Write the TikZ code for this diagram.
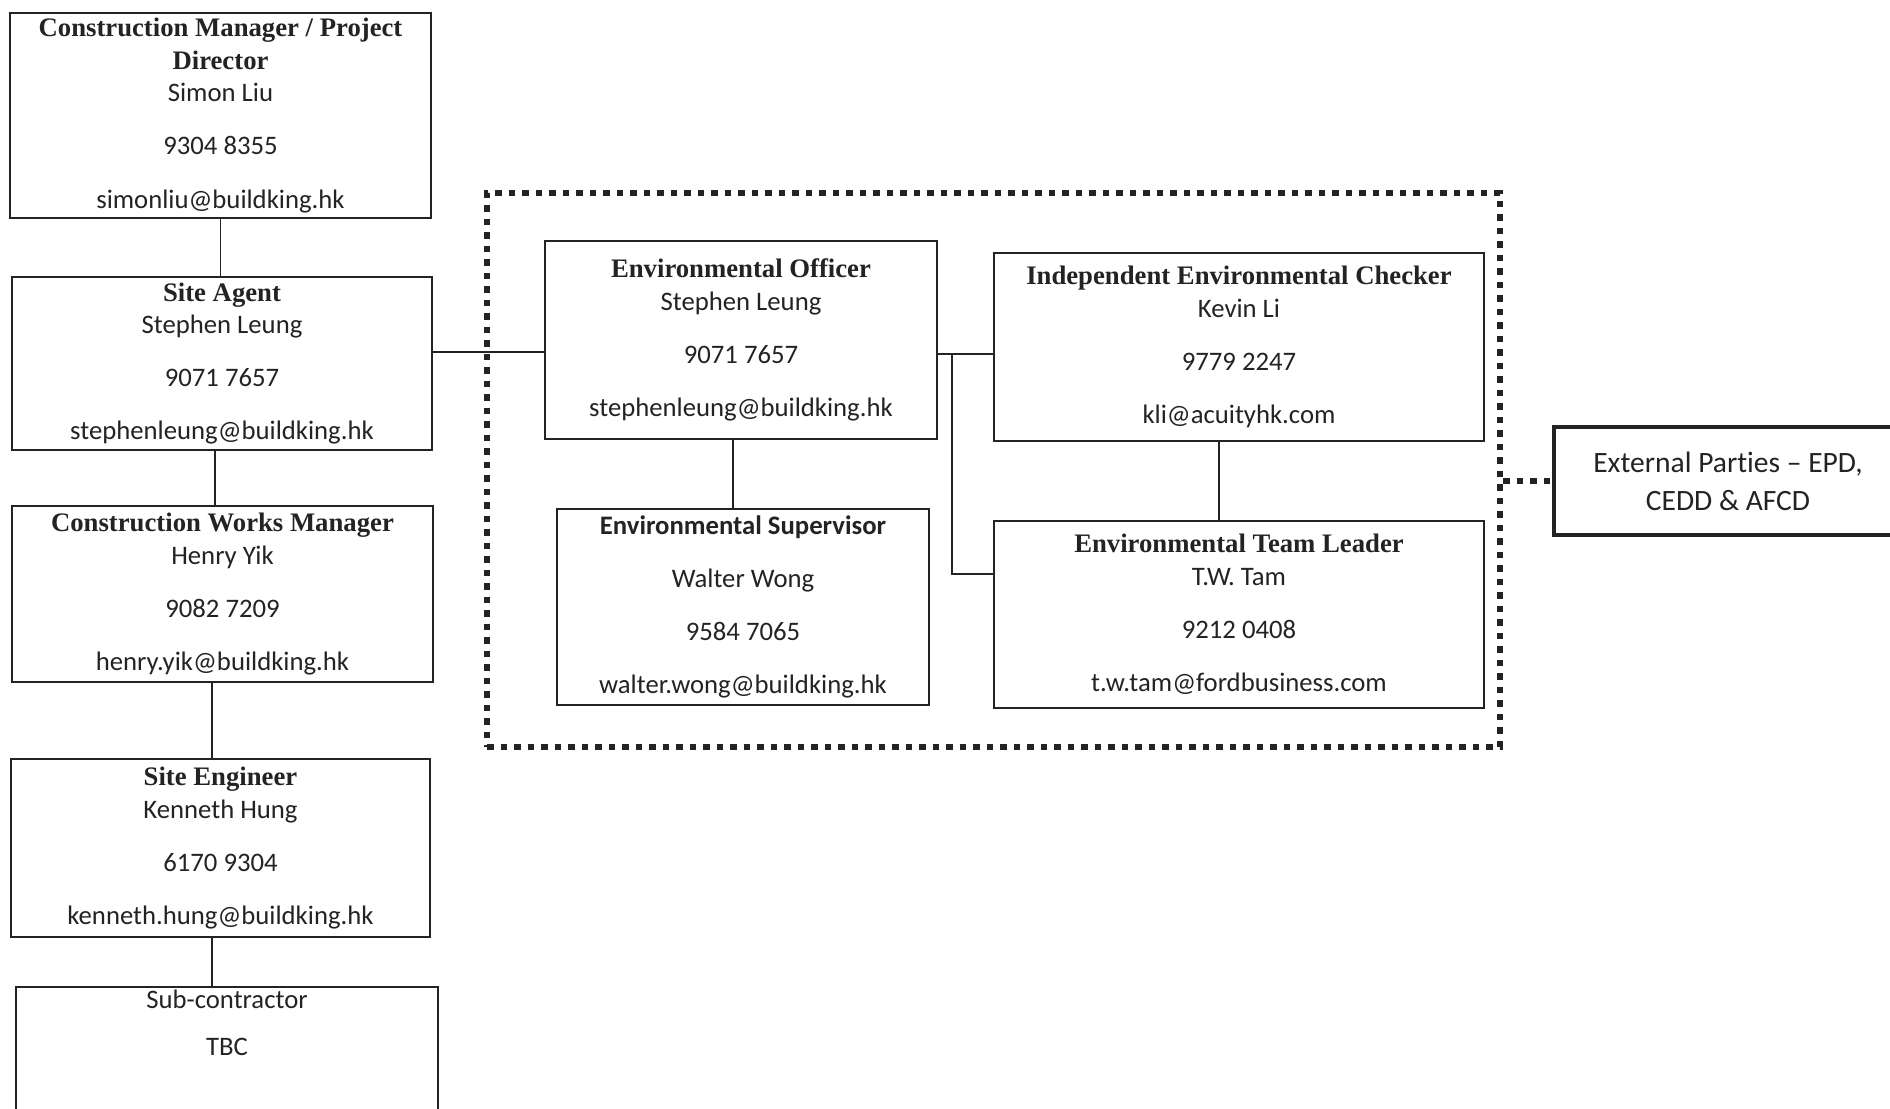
\documentclass[tikz,border=0pt]{standalone}
\usepackage{fontspec}
\setmainfont{Carlito}[Ligatures={TeX,NoCommon}]
\newfontfamily\titlefont{Liberation Serif}
\usetikzlibrary{positioning}
\definecolor{ink}{RGB}{35,35,35}
\newcommand\hd[1]{{\titlefont\bfseries\fontsize{15.2}{18.5}\selectfont #1}}
\newcommand\gap{\\[11.7pt]}
\tikzset{
  box/.style 2 args={draw=ink,line width=1.1pt,minimum width=#1,minimum height=#2,
    align=center,text=ink,inner sep=2pt,font=\fontsize{15.2}{18.5}\selectfont},
  extbox/.style={draw=ink,line width=2.2pt,minimum width=6.96cm,minimum height=2.16cm,
    align=center,text=ink,font=\fontsize{16.8}{21.5}\selectfont},
  teamframe/.style={draw=ink,line width=0.13cm,dash pattern=on 0.13cm off 0.14cm,
    minimum width=20.26cm,minimum height=11.08cm},
  link/.style={draw=ink,line width=1.1pt},
  dotlink/.style={draw=ink,line width=0.13cm,dash pattern=on 0.13cm off 0.14cm},
}
\begin{document}
\begin{tikzpicture}
  \useasboundingbox (0,0) rectangle (37.8,22.16);
  % contractor line
  \node[box={8.42cm}{4.10cm}] (cm) at (4.41,19.85)
    {\hd{Construction Manager / Project}\\ \hd{Director}\\ Simon Liu\gap 9304 8355\gap simonliu@buildking.hk};
  \node[box={8.40cm}{3.46cm}] (sa) at (4.44,14.89)
    {\hd{Site Agent}\\ Stephen Leung\gap 9071 7657\gap stephenleung@buildking.hk};
  \node[box={8.42cm}{3.52cm}] (cwm) at (4.45,10.28)
    {\hd{Construction Works Manager}\\ Henry Yik\gap 9082 7209\gap henry.yik@buildking.hk};
  \node[box={8.38cm}{3.56cm}] (se) at (4.41,5.20)
    {\hd{Site Engineer}\\ Kenneth Hung\gap 6170 9304\gap kenneth.hung@buildking.hk};
  \node[box={8.44cm}{3.56cm}] (sub) at (4.54,0.64)
    {Sub-contractor\\[8.2pt] TBC\gap ~\gap ~};
  % environmental team
  \node[teamframe] (team) at (19.87,12.76) {};
  \node[box={7.84cm}{3.96cm}] (eo) at (14.82,15.36)
    {\hd{Environmental Officer}\\ Stephen Leung\gap 9071 7657\gap stephenleung@buildking.hk};
  \node[box={9.80cm}{3.76cm}] (iec) at (24.78,15.22)
    {\hd{Independent Environmental Checker}\\ Kevin Li\gap 9779 2247\gap kli@acuityhk.com};
  \node[box={7.44cm}{3.92cm}] (es) at (14.86,10.02)
    {\textbf{Environmental Supervisor}\gap Walter Wong\gap 9584 7065\gap walter.wong@buildking.hk};
  \node[box={9.80cm}{3.74cm}] (etl) at (24.78,9.87)
    {\hd{Environmental Team Leader}\\ T.W. Tam\gap 9212 0408\gap t.w.tam@fordbusiness.com};
  \node[extbox] (ext) at (34.56,12.54) {External Parties \textendash{} EPD,\\ CEDD \& AFCD};
  \coordinate (jn) at (19.04,15.08);
  % connectors
  \draw[link] (cm.south) -- (cm.south |- sa.north);
  \draw[link] ([xshift=-1.4mm]sa.south) -- ([xshift=-1.4mm]sa.south |- cwm.north);
  \draw[link] ([xshift=-2.1mm]cwm.south) -- ([xshift=-2.1mm]cwm.south |- se.north);
  \draw[link] ([xshift=-1.7mm]se.south) -- ([xshift=-1.7mm]se.south |- sub.north);
  \draw[link] (sa.east |- 0,15.12) -- (eo.west |- 0,15.12);
  \draw[link] (eo.east |- jn) -- (iec.west |- jn);
  \draw[link] (jn) |- (etl.west |- 0,10.68);
  \draw[link] (eo.south -| 14.66,0) -- (es.north -| 14.66,0);
  \draw[link] (iec.south -| 24.38,0) -- (etl.north -| 24.38,0);
  \draw[dotlink] (team.east |- ext.west) -- (ext.west);
\end{tikzpicture}
\end{document}
